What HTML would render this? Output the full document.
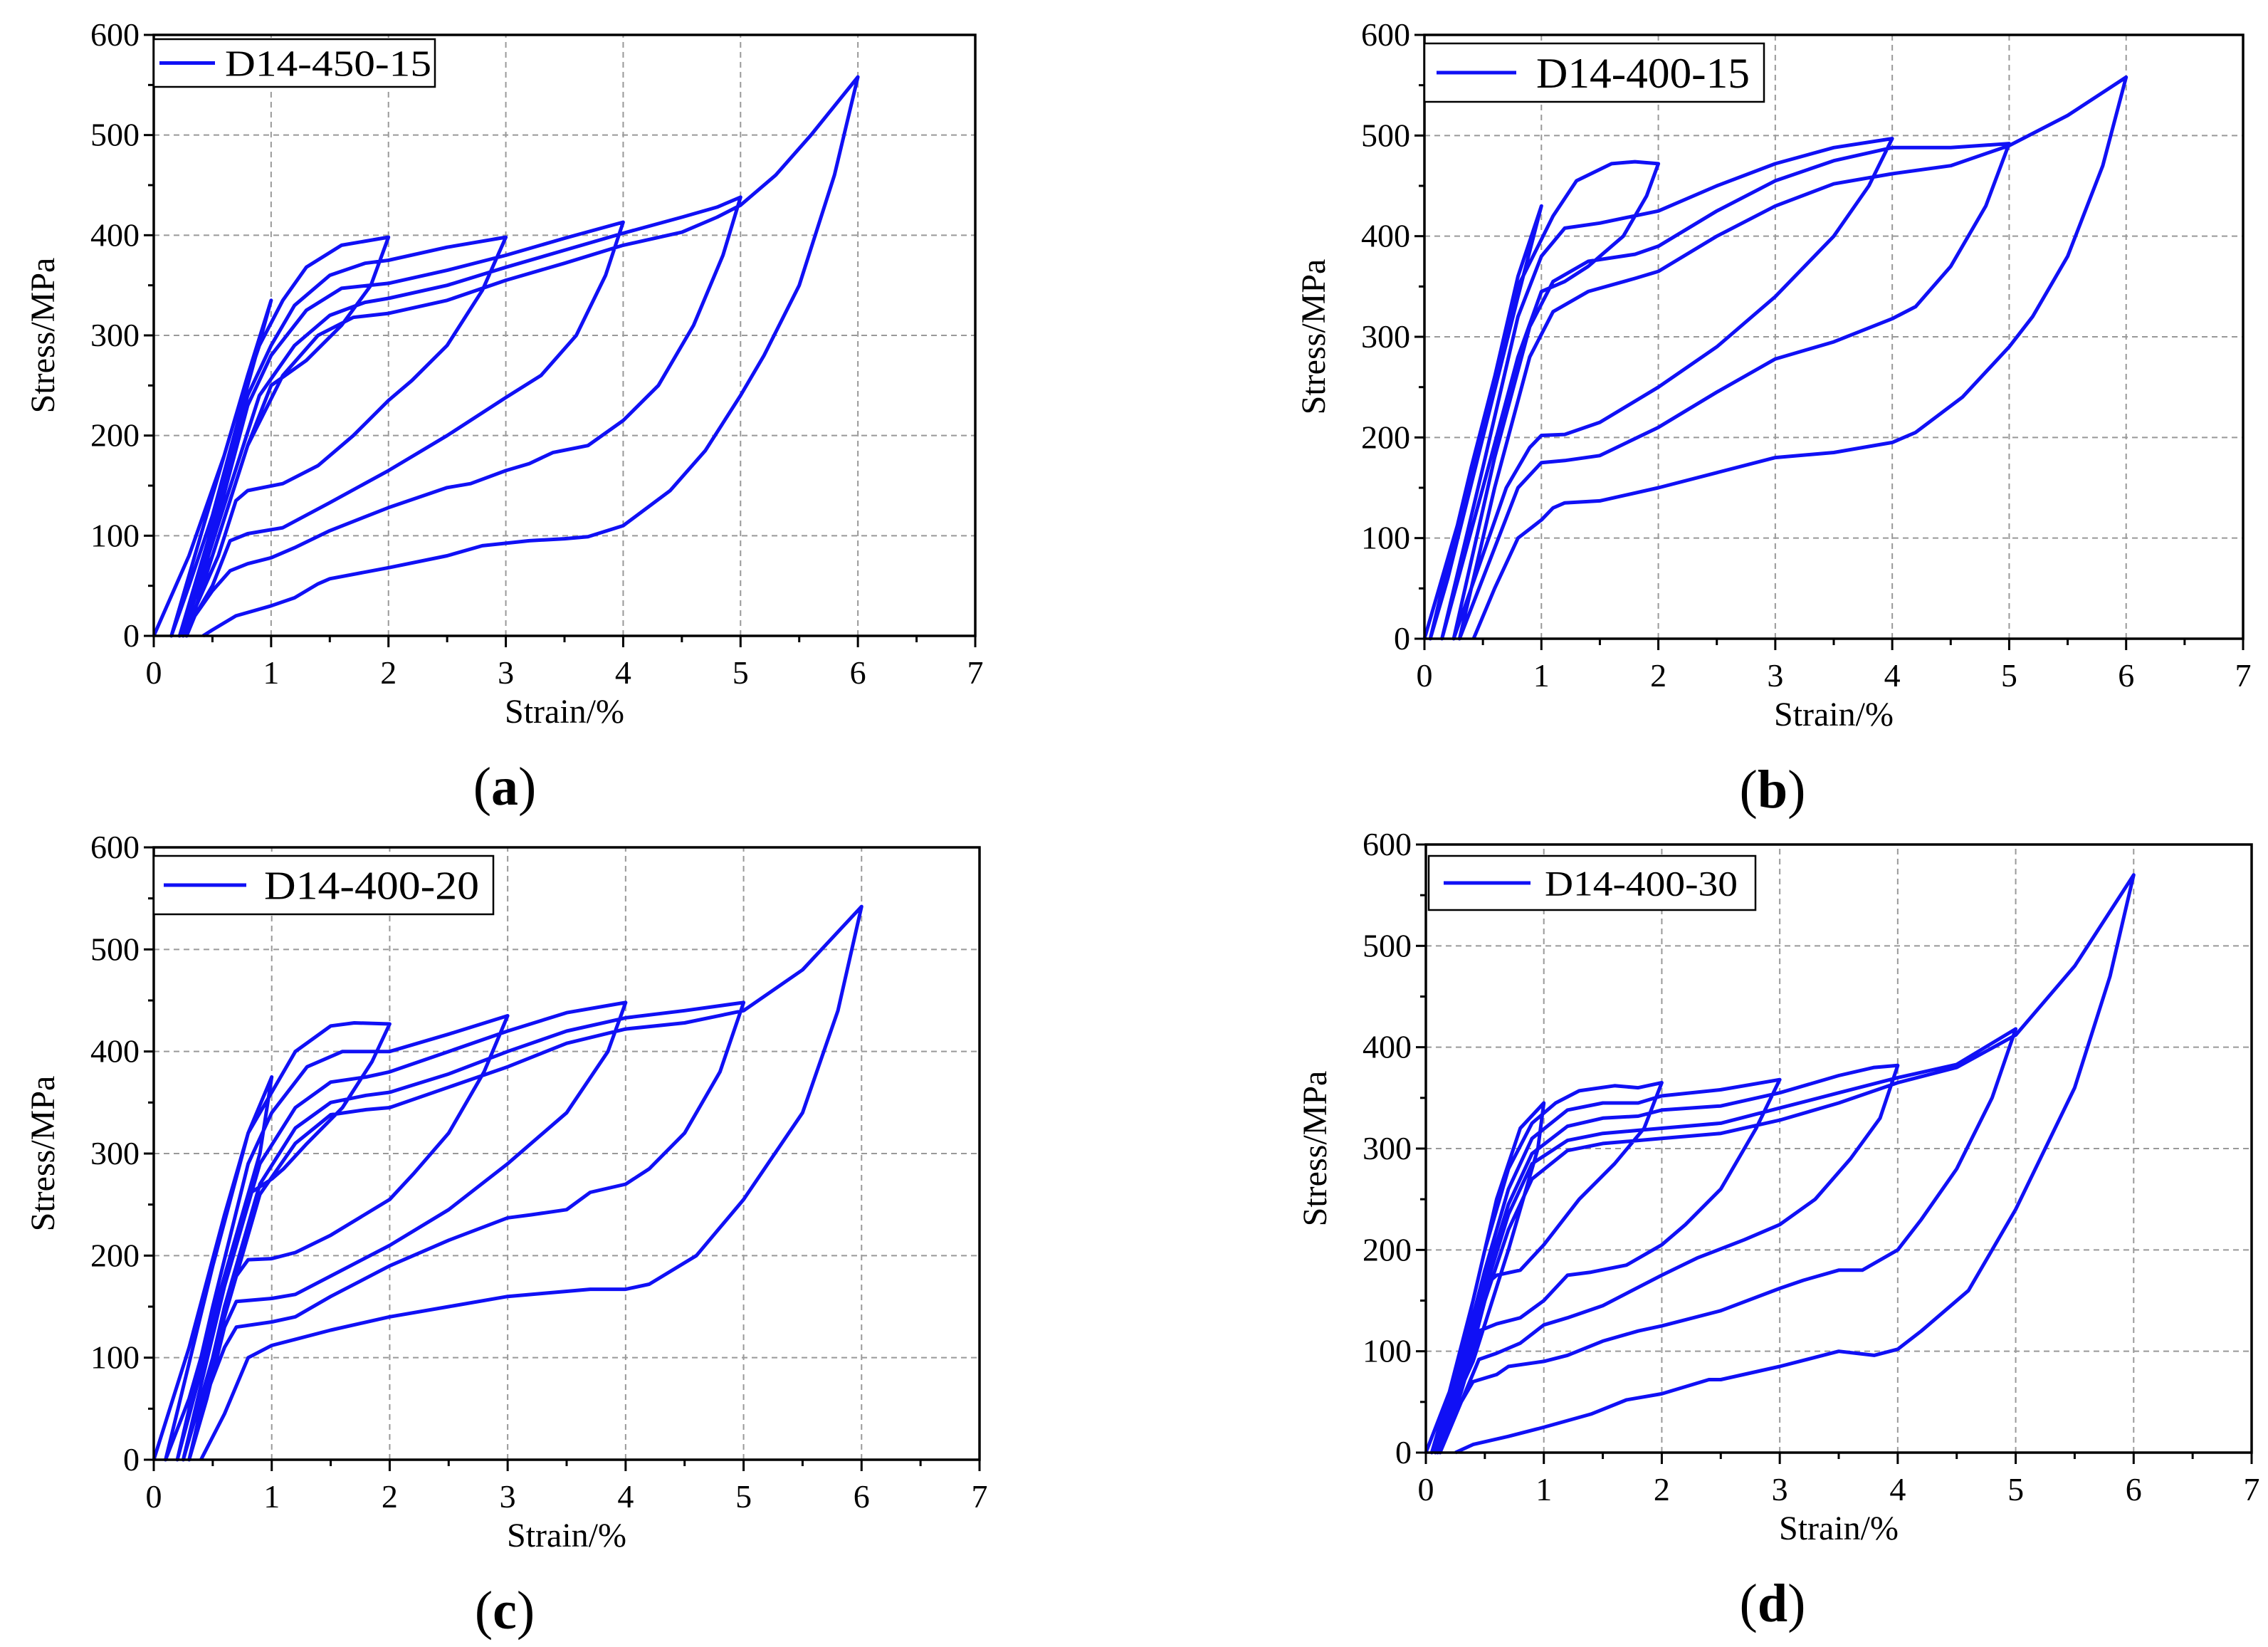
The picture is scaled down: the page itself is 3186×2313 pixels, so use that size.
<!DOCTYPE html>
<html><head><meta charset="utf-8">
<style>
html,body{margin:0;padding:0;background:#fff;}
svg{display:block;}
text{font-family:"Liberation Serif",serif;fill:#000;}
</style></head>
<body>
<svg id="fig" width="3186" height="2313" viewBox="0 0 3186 2313" xmlns="http://www.w3.org/2000/svg"></svg>
<script>
const xTicks = [0,1,2,3,4,5,6,7];
const yTicks = [0,100,200,300,400,500,600];
const panelNames = ["D14-450-15","D14-400-15","D14-400-20","D14-400-30"];
const panelLetters = ["a","b","c","d"];

const seriesA = [
[0,0],[0.3,80],[0.6,180],[0.8,260],[1,335],
[0.8,250],[0.5,120],[0.3,50],[0.15,0],
[0.4,100],[0.7,220],[0.9,290],[1.1,335],[1.3,368],[1.6,390],[2,398],
[1.85,350],[1.6,310],[1.3,275],[1,250],[0.8,190],[0.5,80],[0.22,0],
[0.5,110],[0.8,240],[1,290],[1.2,330],[1.5,360],[1.8,372],[2,375],[2.5,388],[3,398],
[2.8,345],[2.5,290],[2.2,255],[2,235],[1.7,200],[1.4,170],[1.1,152],[0.8,145],[0.7,135],[0.55,80],[0.25,0],
[0.55,120],[0.8,230],[1,280],[1.3,325],[1.6,347],[2,352],[2.5,365],[3,380],[3.5,397],[4,413],
[3.85,360],[3.6,300],[3.3,260],[3,238],[2.5,200],[2,165],[1.5,133],[1.1,108],[0.8,102],[0.65,95],[0.5,50],[0.25,0],
[0.6,130],[0.9,240],[1.2,290],[1.5,320],[1.8,333],[2,337],[2.5,350],[3,368],[3.5,385],[4,402],[4.5,418],[4.8,428],[5,438],
[4.85,380],[4.6,310],[4.3,250],[4,215],[3.7,190],[3.4,183],[3.2,172],[3,165],[2.7,152],[2.5,148],[2,128],[1.5,105],[1.2,88],[1,78],[0.8,72],[0.65,65],[0.5,45],[0.35,20],[0.28,0],
[0.5,80],[0.8,190],[1.1,260],[1.4,300],[1.7,318],[2,322],[2.5,335],[3,355],[3.5,372],[4,390],[4.5,403],[4.8,418],[5,430],[5.3,460],[5.6,500],[6,558],
[5.8,460],[5.5,350],[5.2,280],[5,240],[4.7,185],[4.4,145],[4,110],[3.7,99],[3.5,97],[3.2,95],[2.8,90],[2.5,80],[2,68],[1.5,57],[1.4,52],[1.2,38],[1,30],[0.7,20],[0.5,6],[0.42,0]
];
const seriesB = [
[0,0],[0.3,120],[0.6,260],[0.8,360],[1,430],
[0.8,340],[0.5,200],[0.2,60],[0.05,0],
[0.4,170],[0.8,350],[1.1,420],[1.3,455],[1.6,472],[1.8,474],[2,472],
[1.9,440],[1.7,400],[1.4,370],[1.2,355],[1,345],[0.8,280],[0.5,150],[0.15,0],
[0.5,170],[0.8,320],[1,380],[1.2,408],[1.5,413],[2,425],[2.5,450],[3,472],[3.5,488],[4,497],
[3.8,450],[3.5,400],[3,340],[2.5,290],[2,250],[1.5,215],[1.2,203],[1,202],[0.9,190],[0.7,150],[0.4,50],[0.25,0],
[0.6,180],[0.9,310],[1.1,355],[1.4,375],[1.8,382],[2,390],[2.5,425],[3,455],[3.5,475],[4,488],[4.5,488],[5,492],
[4.8,430],[4.5,370],[4.2,330],[4,318],[3.5,295],[3,278],[2.5,245],[2,210],[1.5,182],[1.2,177],[1,175],[0.8,150],[0.5,60],[0.3,0],
[0.6,150],[0.9,280],[1.1,325],[1.4,345],[1.8,358],[2,365],[2.5,400],[3,430],[3.5,452],[4,462],[4.5,470],[5,490],[5.5,520],[6,558],
[5.8,470],[5.5,380],[5.2,320],[5,290],[4.6,240],[4.2,205],[4,195],[3.5,185],[3,180],[2.5,165],[2,150],[1.5,137],[1.2,135],[1.1,130],[1,118],[0.8,100],[0.6,50],[0.42,0]
];
const seriesC = [
[0,0],[0.3,110],[0.6,240],[0.8,320],[1,375],
[0.9,300],[0.6,180],[0.3,60],[0.1,0],
[0.5,190],[0.8,320],[1,360],[1.2,400],[1.5,425],[1.7,428],[2,427],
[1.85,390],[1.6,345],[1.3,310],[1.1,285],[1,275],[0.8,260],[0.5,130],[0.2,0],
[0.5,150],[0.8,290],[1,340],[1.3,385],[1.6,400],[2,400],[2.5,417],[3,435],
[2.8,380],[2.5,320],[2.2,280],[2,255],[1.5,220],[1.2,203],[1,197],[0.8,196],[0.7,180],[0.5,100],[0.25,0],
[0.6,170],[0.9,290],[1.2,345],[1.5,370],[1.8,375],[2,380],[2.5,400],[3,420],[3.5,438],[4,448],
[3.85,400],[3.5,340],[3,290],[2.5,245],[2,210],[1.5,180],[1.2,162],[1,158],[0.7,155],[0.6,130],[0.45,60],[0.3,0],
[0.6,150],[0.9,270],[1.2,325],[1.5,350],[1.8,357],[2,360],[2.5,378],[3,400],[3.5,420],[4,433],[4.5,440],[5,448],
[4.8,380],[4.5,320],[4.2,285],[4,270],[3.7,262],[3.5,245],[3.2,240],[3,237],[2.5,215],[2,190],[1.5,160],[1.2,140],[1,135],[0.7,130],[0.6,110],[0.4,50],[0.3,0],
[0.6,140],[0.9,260],[1.2,310],[1.5,338],[1.8,343],[2,345],[2.5,365],[3,385],[3.5,408],[4,422],[4.5,428],[5,440],[5.5,480],[6,542],
[5.8,440],[5.5,340],[5,255],[4.6,200],[4.2,172],[4,167],[3.7,167],[3.3,163],[3,160],[2.5,150],[2,140],[1.5,127],[1.2,118],[1,112],[0.8,100],[0.6,45],[0.4,0]
];
const seriesD = [
[0,0],[0.2,60],[0.4,150],[0.6,250],[0.8,320],[1,345],
[0.95,300],[0.7,200],[0.4,90],[0.05,0],
[0.3,100],[0.5,200],[0.7,280],[0.9,325],[1.1,345],[1.3,357],[1.6,362],[1.8,360],[2,365],
[1.85,320],[1.6,285],[1.3,250],[1,205],[0.8,180],[0.6,175],[0.5,165],[0.3,80],[0.08,0],
[0.3,90],[0.5,180],[0.7,260],[0.9,310],[1.2,338],[1.5,345],[1.8,345],[2,352],[2.5,358],[3,368],
[2.8,320],[2.5,260],[2.2,225],[2,205],[1.7,185],[1.4,178],[1.2,175],[1,150],[0.8,133],[0.6,127],[0.45,120],[0.3,60],[0.1,0],
[0.3,80],[0.5,170],[0.7,245],[0.9,295],[1.2,322],[1.5,330],[1.8,332],[2,338],[2.5,342],[3,355],[3.5,372],[3.8,380],[4,382],
[3.85,330],[3.6,290],[3.3,250],[3,225],[2.7,210],[2.3,192],[2,175],[1.5,145],[1.2,133],[1,126],[0.8,108],[0.6,98],[0.45,92],[0.3,50],[0.1,0],
[0.3,70],[0.5,160],[0.7,235],[0.9,285],[1.2,308],[1.5,315],[1.8,318],[2,320],[2.5,325],[3,340],[3.5,355],[4,370],[4.5,383],[5,418],
[4.8,350],[4.5,280],[4.2,230],[4,200],[3.7,180],[3.5,180],[3.2,170],[3,162],[2.5,140],[2,125],[1.8,120],[1.5,110],[1.2,96],[1,90],[0.7,85],[0.6,77],[0.4,70],[0.3,50],[0.12,0],
[0.3,60],[0.5,150],[0.7,220],[0.9,270],[1.2,298],[1.5,305],[2,310],[2.5,315],[3,328],[3.5,345],[4,365],[4.5,380],[5,412],[5.5,480],[6,570],
[5.8,470],[5.5,360],[5,240],[4.6,160],[4.2,120],[4,102],[3.8,96],[3.5,100],[3,85],[2.5,72],[2.4,72],[2,58],[1.7,52],[1.4,38],[1,25],[0.7,16],[0.4,8],[0.25,0]
];
const allSeries = [seriesA, seriesB, seriesC, seriesD];

// leg: [boxX, boxY, boxW, boxH, lineX1, lineX2, textX, textW, fontSize]
const geo = [
 {x0:216,x1:1370,y0:893,y1:49,  leg:[216,55,395,67, 224,302, 316,290,52], lab:[709,1130]},
 {x0:2001,x1:3151,y0:897,y1:49, leg:[2001,61,477,82, 2018,2130, 2158,300,60], lab:[2490,1134]},
 {x0:216,x1:1376,y0:2050,y1:1190, leg:[216,1202,477,82, 230,346, 371,302,56], lab:[709,2287]},
 {x0:2003,x1:3163,y0:2040,y1:1186, leg:[2007,1202,459,76, 2028,2150, 2170,271,50], lab:[2490,2277]}
];
const NS="http://www.w3.org/2000/svg";
const svg=document.getElementById('fig');
function mk(tag,attrs,parent){const e=document.createElementNS(NS,tag);for(const k in attrs)e.setAttribute(k,attrs[k]);(parent||svg).appendChild(e);return e;}
const BLUE="#1010f5";
geo.forEach((g,pi)=>{
  const grp=mk('g',{});
  
  
  const sx=v=>g.x0+(g.x1-g.x0)*v/7;
  const sy=v=>g.y0+(g.y1-g.y0)*v/600;
  xTicks.slice(1,-1).forEach(t=>{const l=mk('line',{x1:sx(t),x2:sx(t),y1:g.y0,y2:g.y1,stroke:'#999','stroke-width':2,'stroke-dasharray':'8,6'},grp);
    });
  yTicks.slice(1,-1).forEach(t=>{const l=mk('line',{x1:g.x0,x2:g.x1,y1:sy(t),y2:sy(t),stroke:'#999','stroke-width':2,'stroke-dasharray':'8,6'},grp);
    });
  xTicks.forEach(t=>{
    mk('line',{x1:sx(t),x2:sx(t),y1:g.y0,y2:g.y0+16,stroke:'#000','stroke-width':3},grp);
    if(t<7) mk('line',{x1:sx(t+0.5),x2:sx(t+0.5),y1:g.y0,y2:g.y0+9,stroke:'#000','stroke-width':3},grp);
    const tx=mk('text',{x:sx(t),y:g.y0+67,'font-size':46,'text-anchor':'middle'},grp);tx.textContent=t;
    
  });
  yTicks.forEach(t=>{
    mk('line',{x1:g.x0-14,x2:g.x0,y1:sy(t),y2:sy(t),stroke:'#000','stroke-width':3},grp);
    if(t<600) mk('line',{x1:g.x0-8,x2:g.x0,y1:sy(t+50),y2:sy(t+50),stroke:'#000','stroke-width':3},grp);
    const tx=mk('text',{x:g.x0-20,y:sy(t)+15,'font-size':46,'text-anchor':'end'},grp);tx.textContent=t;
    
  });
  const d=allSeries[pi].map((p,i)=>(i?'L':'M')+sx(p[0]).toFixed(1)+','+sy(p[1]).toFixed(1)).join(' ');
  const path=mk('path',{d:d,fill:'none',stroke:BLUE,'stroke-width':5,'stroke-linejoin':'round'},grp);
  
  
  const fr=mk('rect',{x:g.x0,y:g.y1,width:g.x1-g.x0,height:g.y0-g.y1,fill:'none',stroke:'#000','stroke-width':3.5},grp);
  
  const L=g.leg;
  const lg=mk('g',{},grp);
  
  mk('rect',{x:L[0],y:L[1],width:L[2],height:L[3],fill:'#fff',stroke:'#000','stroke-width':2.5},lg);
  mk('line',{x1:L[4],x2:L[5],y1:L[1]+L[3]/2,y2:L[1]+L[3]/2,stroke:BLUE,'stroke-width':5},lg);
  const lt=mk('text',{x:L[6],y:L[1]+L[3]/2+L[8]*0.35,'font-size':L[8],textLength:L[7],lengthAdjust:'spacingAndGlyphs'},lg);lt.textContent=panelNames[pi];
  
  const xt=mk('text',{x:(g.x0+g.x1)/2,y:g.y0+122,'font-size':48,'text-anchor':'middle'},grp);xt.textContent='Strain/%';
  
  const yc=(g.y0+g.y1)/2, yx=g.x0-140;
  const yt=mk('text',{x:yx,y:yc,'font-size':48,'text-anchor':'middle',transform:`rotate(-90 ${yx} ${yc})`},grp);yt.textContent='Stress/MPa';
  
  const pl=mk('text',{x:g.lab[0],y:g.lab[1],'font-size':76,'text-anchor':'middle'},grp);
  pl.innerHTML='(<tspan font-weight="bold">'+panelLetters[pi]+'</tspan>)';
  
});
</script>
</body></html>
